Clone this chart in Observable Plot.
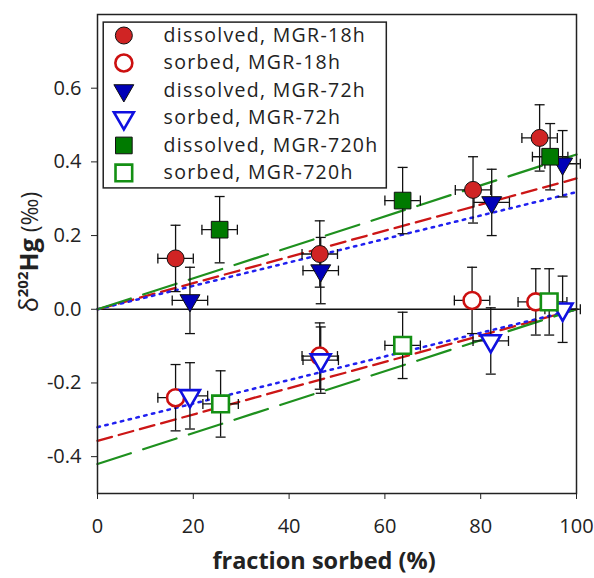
<!DOCTYPE html>
<html><head><meta charset="utf-8">
<script src="https://cdn.jsdelivr.net/npm/d3@7"></script>
<script src="https://cdn.jsdelivr.net/npm/@observablehq/plot@0.6"></script>
<style>body{margin:0;background:#fff} #chart{width:594px;height:578px;position:relative}</style>
</head><body><div id="chart"></div>
<script>
// ---- data ----
const seriesNames = ["dissolved, MGR-18h", "sorbed, MGR-18h", "dissolved, MGR-72h", "sorbed, MGR-72h", "dissolved, MGR-720h", "sorbed, MGR-720h"];
const seriesSymbols = ["circle", "circle", "triangle", "triangle", "square", "square"];
const seriesFilled = [true, false, true, false, true, false];
const seriesColors = ["#d02424", "#cc1010", "#0000b8", "#1010e0", "#007a00", "#149014"];

const d18X = [16.3, 46.4, 78.4, 92.3];
const d18Y = [0.138, 0.150, 0.324, 0.465];
const s18X = [16.3, 46.4, 78.2, 91.5];
const s18Y = [-0.240, -0.127, 0.024, 0.020];
const d72X = [19.3, 46.6, 82.3, 97.1];
const d72Y = [0.024, 0.105, 0.290, 0.395];
const s72X = [19.3, 46.6, 82.1, 97.1];
const s72Y = [-0.235, -0.138, -0.086, 0.000];
const d720X = [25.5, 63.7, 94.5];
const d720Y = [0.216, 0.295, 0.414];
const s720X = [25.7, 63.7, 94.3];
const s720Y = [-0.257, -0.098, 0.020];

const xErr = 3.7;   // fraction sorbed uncertainty (%)
const yErr = 0.09;  // δ202Hg uncertainty (‰)

// regression lines: endpoints at fraction sorbed 0 and 100
const fitX = [0, 100];
const fit18Dissolved = [0, 0.355];
const fit18Sorbed = [-0.357, 0];
const fit72Dissolved = [0, 0.318];
const fit72Sorbed = [-0.320, 0];
const fit720Dissolved = [0, 0.420];
const fit720Sorbed = [-0.420, 0];

const xTicks = [0, 20, 40, 60, 80, 100];
const yTicks = [-0.4, -0.2, 0, 0.2, 0.4, 0.6];

// ---- build tables ----
const seriesX = [d18X, s18X, d72X, s72X, d720X, s720X];
const seriesY = [d18Y, s18Y, d72Y, s72Y, d720Y, s720Y];
const points = [];
seriesX.forEach((xs, s) => xs.forEach((x, i) => points.push({s, x, y: seriesY[s][i], xe: xErr, ye: yErr})));

const fits = [
  {color: "#cc1616", dash: "15,7", width: 2.3, sets: [fit18Dissolved, fit18Sorbed]},
  {color: "#2020f0", dash: "2.5,5.5", width: 2.5, sets: [fit72Dissolved, fit72Sorbed]},
  {color: "#1e901e", dash: "35,13", width: 2.3, sets: [fit720Dissolved, fit720Sorbed]}
];

const capH = {draw(ctx) { ctx.moveTo(-5, 0); ctx.lineTo(5, 0); }};
const capV = {draw(ctx) { ctx.moveTo(0, -5); ctx.lineTo(0, 5); }};

function markerMarks(data, s, xAcc, yAcc) {
  const sym = seriesSymbols[s];
  const r = sym === "circle" ? 8.5 : sym === "square" ? 9.4 : 7.4;
  const opts = {x: xAcc, y: yAcc, symbol: sym, r, rotate: sym === "triangle" ? 180 : 0};
  if (seriesFilled[s]) Object.assign(opts, {fill: seriesColors[s], stroke: "#111", strokeWidth: 1});
  else Object.assign(opts, {fill: "white", stroke: seriesColors[s], strokeWidth: 2.6});
  return Plot.dot(data, opts);
}

// legend layout (in data units of the frame)
const legendBox = {x1: 1.3, x2: 60.4, y1: 0.328, y2: 0.778};
const legendMarkerX = 5.5, legendTextX = 13.8, legendTop = 0.743, legendStep = 0.0746;
const legendRows = seriesNames.map((name, i) => ({name, i, x: legendMarkerX, tx: legendTextX, y: legendTop - i * legendStep}));

const marks = [
  Plot.axisX({ticks: xTicks, tickSize: 6, tickPadding: 19, label: null, tickFormat: d => String(d), fontSize: 20}),
  Plot.axisY({ticks: yTicks, tickSize: 6, tickPadding: 10, label: null, tickFormat: d => d.toFixed(1), fontSize: 20}),
  Plot.ruleY([0], {stroke: "#111", strokeWidth: 1.6})
];
fits.forEach(f => f.sets.forEach(ys => {
  marks.push(Plot.line(fitX.map((x, i) => ({x, y: ys[i]})), {x: "x", y: "y", stroke: f.color, strokeWidth: f.width, strokeDasharray: f.dash}));
}));
marks.push(
  Plot.ruleX(points, {x: "x", y1: d => d.y - d.ye, y2: d => d.y + d.ye, stroke: "#111", strokeWidth: 1.3}),
  Plot.ruleY(points, {y: "y", x1: d => d.x - d.xe, x2: d => d.x + d.xe, stroke: "#111", strokeWidth: 1.3}),
  Plot.dot(points, {x: "x", y: d => d.y - d.ye, symbol: capH, stroke: "#111", strokeWidth: 1.3}),
  Plot.dot(points, {x: "x", y: d => d.y + d.ye, symbol: capH, stroke: "#111", strokeWidth: 1.3}),
  Plot.dot(points, {x: d => d.x - d.xe, y: "y", symbol: capV, stroke: "#111", strokeWidth: 1.3}),
  Plot.dot(points, {x: d => d.x + d.xe, y: "y", symbol: capV, stroke: "#111", strokeWidth: 1.3})
);
seriesNames.forEach((_, s) => marks.push(markerMarks(points.filter(p => p.s === s), s, "x", "y")));
// legend
marks.push(Plot.rect([legendBox], {x1: "x1", x2: "x2", y1: "y1", y2: "y2", fill: "white", stroke: "#222", strokeWidth: 1.5}));
seriesNames.forEach((_, s) => marks.push(markerMarks(legendRows.filter(r => r.i === s), s, "x", "y")));
marks.push(Plot.text(legendRows, {x: "tx", y: "y", text: "name", textAnchor: "start", fill: "#222", fontSize: 19.5}));
marks.push(Plot.frame({stroke: "#222", strokeWidth: 1.5}));

const chart = Plot.plot({
  width: 594, height: 578,
  marginLeft: 97, marginRight: 18, marginTop: 14, marginBottom: 85,
  x: {domain: [0, 100]},
  y: {domain: [-0.5, 0.8]},
  style: {fontFamily: "Open Sans", fontSize: "20px", color: "#222", background: "white"},
  marks
});
document.getElementById("chart").appendChild(chart);

const svg = d3.select(chart);
svg.selectAll("g[aria-label='text'] text").style("letter-spacing", "1.3px");
// axis titles
const yl = svg.append("text")
  .attr("transform", "translate(38,252) rotate(-90)")
  .attr("text-anchor", "middle")
  .attr("fill", "#222")
  .style("font-family", "Open Sans");
yl.append("tspan").attr("font-size", 25).text("δ");
yl.append("tspan").attr("font-size", 15).attr("font-weight", "bold").attr("dy", -10).text("202");
yl.append("tspan").attr("font-size", 25).attr("font-weight", "bold").attr("dy", 10).text("Hg");
yl.append("tspan").attr("font-size", 23).text(" (‰)");
svg.append("text")
  .attr("x", 324).attr("y", 569)
  .attr("text-anchor", "middle")
  .attr("font-size", 23.5).attr("font-weight", "bold")
  .attr("fill", "#222")
  .style("font-family", "Open Sans")
  .text("fraction sorbed (%)");
</script></body></html>
